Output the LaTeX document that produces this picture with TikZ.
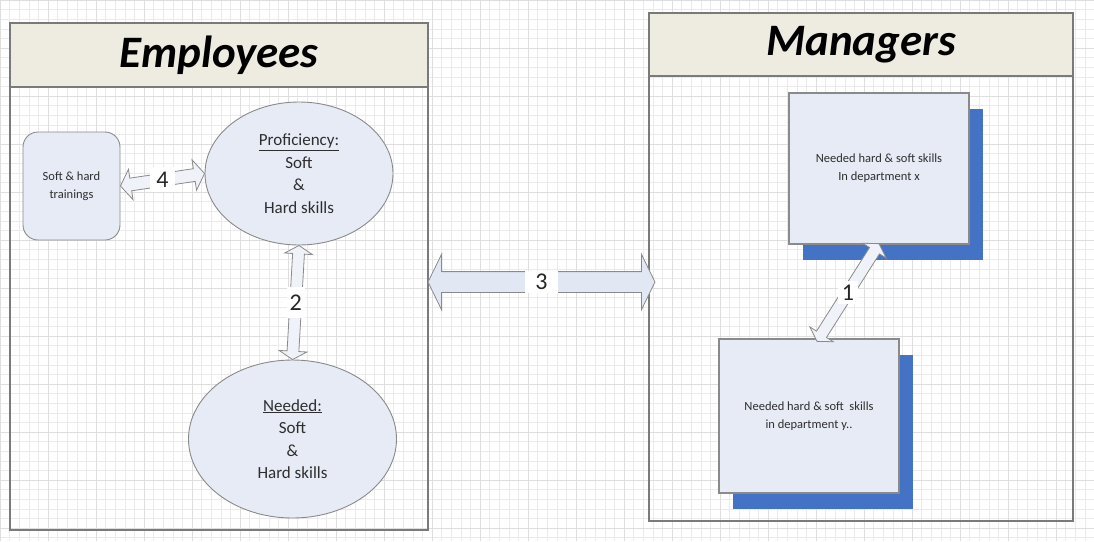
\documentclass[tikz,border=0pt]{standalone}
\usepackage{fontspec}
\setmainfont{Carlito}
\usetikzlibrary{shapes.geometric,shapes.arrows,calc,shadows}

\definecolor{gridminor}{HTML}{EBEBEB}
\definecolor{gridmajor}{HTML}{DEDEDE}
\definecolor{panelgray}{HTML}{7A7A7A}
\definecolor{headbeige}{HTML}{EEECE1}
\definecolor{shapefill}{HTML}{E6EBF5}
\definecolor{shapeline}{HTML}{8A8A8A}
\definecolor{arrowfill}{HTML}{E2E8F3}
\definecolor{thinfill}{HTML}{EFF2F8}
\definecolor{shadowblue}{HTML}{4472C4}
\definecolor{textgray}{HTML}{2E2E2E}

\tikzset{
  panel/.style={draw=panelgray, line width=1.5pt, inner sep=0pt, outer sep=0pt},
  header/.style={panel, fill=headbeige, font=\fontsize{45}{50}\selectfont\bfseries\itshape},
  bubble/.style={ellipse, draw=shapeline, line width=0.9pt, fill=shapefill, inner sep=0pt,
    align=center, text=textgray, font=\fontsize{17}{22.5}\selectfont},
  trainbox/.style={rectangle, rounded corners=15pt, draw=shapeline, line width=0.9pt, fill=shapefill,
    align=center, text=textgray, font=\fontsize{12.5}{18}\selectfont},
  skillbox/.style={rectangle, draw=shapeline, line width=1.2pt, fill=shapefill, align=center,
    text=textgray, font=\fontsize{12.5}{18}\selectfont,
    drop shadow={shadow xshift=14pt, shadow yshift=-16pt, fill=shadowblue, opacity=1}},
  bigarrow/.style={double arrow, draw=shapeline, line width=0.8pt, fill=arrowfill,
    inner xsep=0pt, inner ysep=10pt, minimum width=1pt,
    double arrow head extend=17.5pt, double arrow tip angle=128},
  thinarrow/.style={double arrow, draw=shapeline, line width=0.8pt, fill=thinfill,
    inner xsep=0pt, inner ysep=5.5pt, minimum width=1pt,
    double arrow head extend=8pt, double arrow tip angle=118},
  numlabel/.style={fill=white, inner sep=5pt, text=black!85, font=\fontsize{24}{28}\selectfont},
}

% double-headed block arrow laid between two points: style, name, from, to
\newcommand{\blockarrowbetween}[4]{%
  \path let \p1=(#3), \p2=(#4),
            \n1={atan2(\y2-\y1,\x2-\x1)}, \n2={veclen(\x2-\x1,\y2-\y1)} in
    node[#1, minimum height=\n2, rotate=\n1] (#2) at ($(\p1)!0.5!(\p2)$) {};}

\begin{document}
\begin{tikzpicture}[x=1pt,y=-1pt]
\useasboundingbox (0,0) rectangle (1094,541);

% paper grid
\foreach \i in {0,...,114} {
  \draw[gridminor, line width=0.5pt] (\i*9.6,0) -- (\i*9.6,541);
}
\foreach \j in {0,...,56} {
  \draw[gridminor, line width=0.5pt] (0,\j*9.6) -- (1094,\j*9.6);
}
\foreach \i in {0,...,22} {
  \draw[gridmajor, line width=0.6pt] (\i*48,0) -- (\i*48,541);
}
\foreach \j in {0,...,11} {
  \draw[gridmajor, line width=0.6pt] (0,\j*48) -- (1094,\j*48);
}

% the two swimlanes
\node[panel, minimum width=418pt, minimum height=507pt] (emp) at (219,276.5) {};
\node[header, minimum width=418pt, minimum height=64pt, anchor=north] (emphead) at (emp.north) {Employees};
\node[panel, minimum width=424pt, minimum height=508pt] (man) at (861,267) {};
\node[header, minimum width=424pt, minimum height=63pt, anchor=north] (manhead) at (man.north) {Managers};

% employee side
\node[trainbox, minimum width=97pt, minimum height=108pt] (train) at (71.5,186) {Soft \& hard\\trainings};
\node[bubble, minimum width=188pt, minimum height=143pt] (prof) at (299,173.5)
  {\underline{Proficiency:}\\Soft\\\&\\Hard skills};
\node[bubble, minimum width=208pt, minimum height=158pt] (need) at (292.5,439)
  {\underline{Needed:}\\Soft\\\&\\Hard skills};

% manager side
\node[skillbox, minimum width=180pt, minimum height=151pt] (boxx) at (879,168.5)
  {Needed hard \& soft skills\\In department x};
\node[skillbox, minimum width=180pt, minimum height=154pt] (boxy) at (809,416)
  {Needed hard \& soft\ \ skills\\in department y..};

% connectors
\coordinate (a3l) at (emp.east |- 0,282);
\coordinate (a3r) at ([xshift=6pt]man.west |- 0,282);
\coordinate (a1l) at ([xshift=8pt,yshift=-3pt]boxy.north);
\coordinate (a1r) at ([yshift=1pt]boxx.south);

\blockarrowbetween{thinarrow, inner ysep=6pt, double arrow head extend=9pt, double arrow tip angle=112}{arr4}{train.east}{prof.west}
\blockarrowbetween{thinarrow}{arr2}{prof.south}{need.north}
\blockarrowbetween{bigarrow}{arr3}{a3l}{a3r}
\blockarrowbetween{thinarrow}{arr1}{a1l}{a1r}

\node[numlabel, inner xsep=6pt] (lab4) at ($(train.east)!0.5!(prof.west)$) {4};
\node[numlabel, inner ysep=8pt, inner xsep=3pt] (lab2) at ($(prof.south)!0.5!(need.north)$) {2};
\node[numlabel, inner xsep=10pt, inner ysep=3pt] (lab3) at ($(a3l)!0.5!(a3r)$) {3};
\node[numlabel, inner sep=4pt] (lab1) at ($(a1l)!0.5!(a1r)$) {1};
\end{tikzpicture}
\end{document}
